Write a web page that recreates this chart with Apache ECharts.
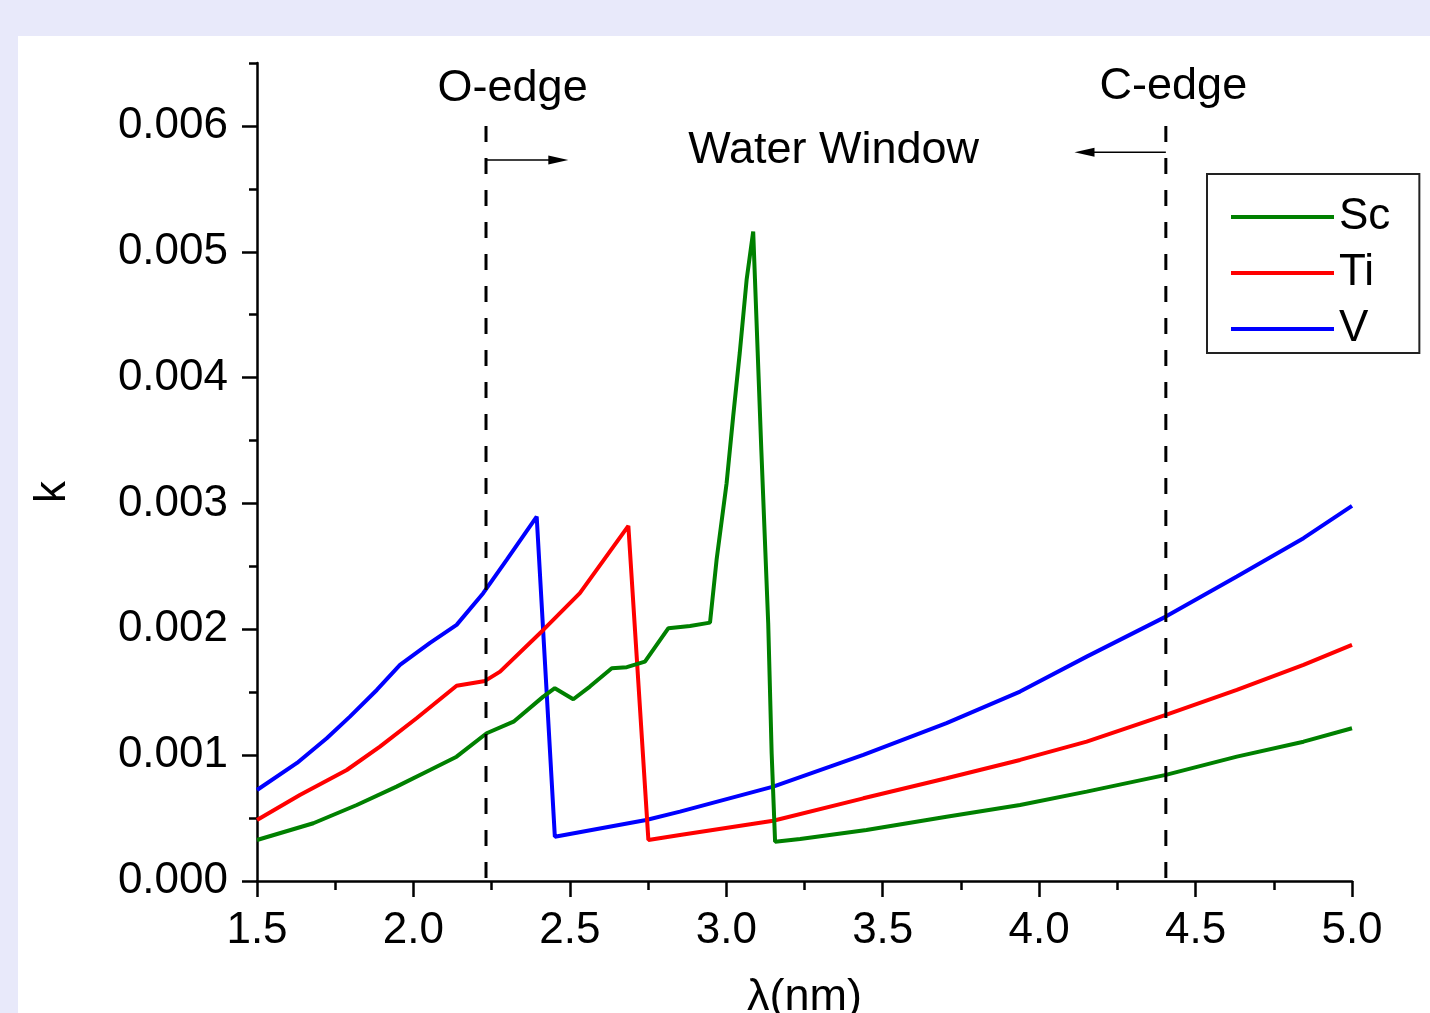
<!DOCTYPE html>
<html><head><meta charset="utf-8">
<script src="https://cdn.jsdelivr.net/npm/echarts@6/dist/echarts.min.js"></script>
<style>
html,body{margin:0;padding:0;background:#E8E9FA;overflow:hidden;}
#panel{position:absolute;left:18px;top:36px;width:1412px;height:977px;background:#ffffff;}
#chart{position:absolute;left:0;top:0;width:1430px;height:1013px;}
</style></head><body>
<div id="panel"></div><div id="chart"></div>
<script>
// ---- data (wavelength in nm, k) ----
const scWl = [1.5, 1.68, 1.819, 1.946, 2.053, 2.138, 2.234, 2.32, 2.415, 2.452, 2.511, 2.564, 2.634, 2.682, 2.74, 2.815, 2.884, 2.948, 2.969, 3.001, 3.022, 3.043, 3.065, 3.086, 3.112, 3.134, 3.145, 3.156, 3.236, 3.448, 3.704, 3.939, 4.152, 4.405, 4.632, 4.845, 5.0];
const scK  = [0.000326, 0.000459, 0.000604, 0.00075, 0.000882, 0.000988, 0.001174, 0.001266, 0.001465, 0.001532, 0.001444, 0.001545, 0.001691, 0.001699, 0.001743, 0.002009, 0.002027, 0.002053, 0.002552, 0.003161, 0.003691, 0.004195, 0.004777, 0.005161, 0.003426, 0.002048, 0.001015, 0.000312, 0.000334, 0.000405, 0.000511, 0.000604, 0.00071, 0.000843, 0.000988, 0.001107, 0.001214];

const tiWl = [1.5, 1.637, 1.787, 1.893, 2.01, 2.138, 2.229, 2.277, 2.415, 2.532, 2.687, 2.751, 2.852, 3.15, 3.438, 3.704, 3.939, 4.152, 4.405, 4.632, 4.845, 5.0];
const tiK  = [0.000485, 0.000684, 0.000882, 0.001068, 0.001293, 0.001552, 0.00159, 0.001664, 0.001995, 0.002287, 0.002822, 0.000326, 0.000366, 0.000479, 0.000657, 0.000816, 0.000962, 0.001107, 0.00132, 0.001518, 0.001717, 0.001876];

const vWl = [1.5, 1.628, 1.723, 1.797, 1.883, 1.957, 2.053, 2.138, 2.223, 2.298, 2.394, 2.452, 2.744, 2.852, 3.15, 3.438, 3.704, 3.939, 4.152, 4.405, 4.632, 4.845, 5.0];
const vK  = [0.000723, 0.000938, 0.001134, 0.001306, 0.001518, 0.001717, 0.001892, 0.002035, 0.002287, 0.002552, 0.002896, 0.000352, 0.000485, 0.000551, 0.00075, 0.001002, 0.001254, 0.001505, 0.001783, 0.002101, 0.002419, 0.002724, 0.002981];

const seriesNames = ['Sc', 'Ti', 'V'];
const yMajor = [0, 0.001, 0.002, 0.003, 0.004, 0.005, 0.006];
const yMinor = [0.0005, 0.0015, 0.0025, 0.0035, 0.0045, 0.0055, 0.0065];

// absorption edges (nm) and top of their dashed markers
const edgeWl = [2.232, 4.405];
const edgeTop = 0.006;

// annotations (data coordinates)
const annoText = ['O-edge', 'Water Window', 'C-edge'];
const annoWl = [2.317, 3.343, 4.429];
const annoK = [0.0063, 0.0058, 0.00631];
const arrowFromWl = [2.232, 4.405];
const arrowToWl = [2.495, 4.113];
const arrowK = [0.00573, 0.00579];

const FONT = '"Liberation Sans", Arial, sans-serif';
const pairs = (xs, ys) => xs.map((x, i) => [x, ys[i]]);

const chart = echarts.init(document.getElementById('chart'), null, {renderer: 'canvas', width: 1430, height: 1013});
const black = '#000000';
const tickStyle = {color: black, width: 2.5};
const LW = 4;

const option = {
  animation: false,
  backgroundColor: 'transparent',
  grid: {left: 257, width: 1095, top: 63, height: 818, containLabel: false, outerBoundsMode: 'none'},
  xAxis: {
    type: 'value', min: 1.5, max: 5.0, interval: 0.5,
    name: 'λ(nm)', nameLocation: 'middle', nameGap: 94,
    nameTextStyle: {fontSize: 45, color: black, fontFamily: FONT},
    axisLine: {lineStyle: {color: black, width: 2.5}},
    axisTick: {inside: false, length: 16, lineStyle: tickStyle},
    minorTick: {show: true, splitNumber: 2, length: 9, lineStyle: tickStyle},
    splitLine: {show: false}, minorSplitLine: {show: false},
    axisLabel: {fontSize: 44, color: black, fontFamily: FONT, margin: 28,
      formatter: v => v.toFixed(1)}
  },
  yAxis: [{
    type: 'value', min: 0, max: 0.0065, interval: 0.001, position: 'left',
    name: 'k', nameLocation: 'middle', nameGap: 182, nameRotate: 90,
    nameTextStyle: {fontSize: 44, color: black, fontFamily: FONT, padding: [0, 40, 0, 0]},
    axisLine: {lineStyle: {color: black, width: 2.5}},
    axisTick: {inside: false, length: 15, lineStyle: tickStyle, customValues: yMajor},
    splitLine: {show: false},
    axisLabel: {fontSize: 44, color: black, fontFamily: FONT, margin: 29,
      customValues: yMajor, formatter: v => v.toFixed(3)}
  }, {
    type: 'value', min: 0, max: 0.0065, position: 'left', offset: 0,
    axisLine: {show: false},
    axisTick: {show: true, inside: false, length: 8, lineStyle: tickStyle, customValues: yMinor},
    axisLabel: {show: false},
    splitLine: {show: false}
  }],
  legend: {
    orient: 'vertical', left: 1207, top: 174,
    data: seriesNames,
    itemWidth: 103, itemHeight: 44, itemGap: 12,
    padding: [21, 29, 2, 22],
    borderColor: '#222222', borderWidth: 2, borderRadius: 0,
    backgroundColor: '#ffffff',
    itemStyle: {opacity: 0},
    lineStyle: {width: LW},
    textStyle: {fontSize: 44, color: black, fontFamily: FONT},
    selectedMode: false
  },
  series: [
    {name: 'V', type: 'line', data: pairs(vWl, vK), symbol: 'none', z: 3,
     lineStyle: {color: '#0000FF', width: LW}, itemStyle: {color: '#0000FF'}},
    {name: 'Ti', type: 'line', data: pairs(tiWl, tiK), symbol: 'none', z: 3,
     lineStyle: {color: '#FF0000', width: LW}, itemStyle: {color: '#FF0000'}},
    {name: 'Sc', type: 'line', data: pairs(scWl, scK), symbol: 'none', z: 3,
     lineStyle: {color: '#008000', width: LW}, itemStyle: {color: '#008000'}}
  ].concat(edgeWl.map((w, i) => ({
    name: 'edge' + i, type: 'line', data: [[w, edgeTop], [w, 0]], symbol: 'none', z: 5,
    silent: true, lineStyle: {color: black, width: 3, type: [16, 16]}
  })))
};
chart.setOption(option);

const px = p => chart.convertToPixel({xAxisIndex: 0, yAxisIndex: 0}, p);
const graphics = [];
annoText.forEach((t, i) => {
  const p = px([annoWl[i], annoK[i]]);
  graphics.push({type: 'text', x: p[0], y: p[1], z: 10,
    style: {text: t, fontSize: 45, fontFamily: FONT, fill: black, align: 'center', verticalAlign: 'middle'}});
});
arrowFromWl.forEach((w, i) => {
  const a = px([w, arrowK[i]]);
  const b = px([arrowToWl[i], arrowK[i]]);
  const dir = b[0] > a[0] ? 1 : -1;
  graphics.push({type: 'line', z: 10, shape: {x1: a[0], y1: a[1], x2: b[0] - dir * 6, y2: b[1]},
    style: {stroke: black, lineWidth: 1.5}});
  graphics.push({type: 'polygon', z: 10,
    shape: {points: [[b[0], b[1]], [b[0] - dir * 20, b[1] - 4.5], [b[0] - dir * 20, b[1] + 4.5]]},
    style: {fill: black}});
});
chart.setOption({graphic: graphics});
</script>
</body></html>
